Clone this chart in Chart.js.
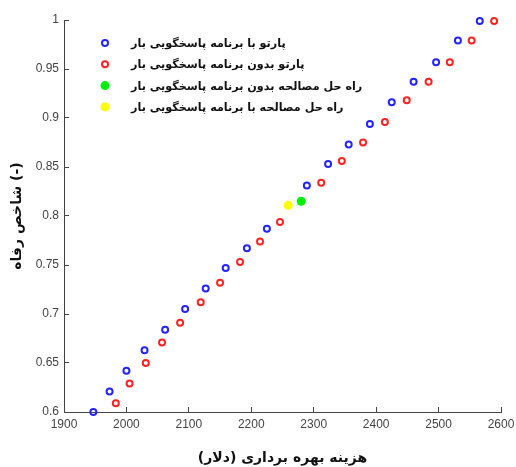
<!DOCTYPE html>
<html>
<head>
<meta charset="utf-8">
<script src="https://cdn.jsdelivr.net/npm/chart.js@4/dist/chart.umd.min.js"></script>
<style>
  html,body{margin:0;padding:0;background:#fff;}
  #wrap{width:516px;height:467px;}
</style>
</head>
<body>
<div id="wrap"><canvas id="chart" width="516" height="467"></canvas></div>
<script>
// پارتو با برنامه پاسخگویی بار
const paretoDrX=[1947,1973,2000,2029,2062,2094,2127,2159,2193,2225,2289,2323,2356,2390,2425,2460,2496,2531,2566];
const paretoDrY=[0.600,0.621,0.642,0.663,0.684,0.705,0.726,0.747,0.767,0.787,0.831,0.853,0.873,0.894,0.916,0.937,0.957,0.979,0.999];
// پارتو بدون برنامه پاسخگویی بار
const paretoNoDrX=[1983,2005,2031,2057,2086,2119,2150,2182,2214,2246,2312,2345,2379,2414,2449,2484,2518,2553,2589];
const paretoNoDrY=[0.609,0.629,0.650,0.671,0.691,0.712,0.732,0.753,0.774,0.794,0.834,0.856,0.875,0.896,0.918,0.937,0.957,0.979,0.999];
// راه حل مصالحه
const compromiseNoDr=[2280,0.815];
const compromiseDr=[2259,0.811];

const xTicks=[1900,2000,2100,2200,2300,2400,2500,2600];
const yTicks=[0.6,0.65,0.7,0.75,0.8,0.85,0.9,0.95,1];

const seriesLabels=[
  'پارتو با برنامه پاسخگویی بار',
  'پارتو بدون برنامه پاسخگویی بار',
  'راه حل مصالحه بدون برنامه پاسخگویی بار',
  'راه حل مصالحه با برنامه پاسخگویی بار'
];
const xTitle='هزینه بهره برداری (دلار)';
const yTitle='شاخص رفاه (-)';

const pts=(xs,ys)=>xs.map((x,i)=>({x,y:ys[i]}));
const persianFont='"DejaVu Sans", sans-serif';
const tickFont={family:'"Liberation Sans", Arial, sans-serif',size:12};

// legend drawn inside the plot, MATLAB-style
const innerLegend={
  id:'innerLegend',
  afterDraw(chart,args,opts){
    const ctx=chart.ctx;
    ctx.save();
    chart.data.datasets.forEach((ds,i)=>{
      const cy=opts.top+i*opts.step;
      ctx.beginPath();
      ctx.arc(opts.markX,cy,ds.pointRadius,0,Math.PI*2);
      ctx.fillStyle=ds.backgroundColor;
      ctx.fill();
      if(ds.borderWidth){
        ctx.lineWidth=ds.borderWidth;
        ctx.strokeStyle=ds.borderColor;
        ctx.stroke();
      }
      ctx.fillStyle='#111';
      ctx.font='bold 11.2px '+persianFont;
      ctx.textAlign='left';
      ctx.textBaseline='middle';
      ctx.fillText(ds.label,opts.textX,cy+1);
    });
    ctx.restore();
  }
};

new Chart(document.getElementById('chart').getContext('2d'),{
  type:'scatter',
  data:{datasets:[
    {label:seriesLabels[0],data:pts(paretoDrX,paretoDrY),borderColor:'#2424ff',backgroundColor:'rgba(0,0,0,0)',pointRadius:3,borderWidth:2,clip:false},
    {label:seriesLabels[1],data:pts(paretoNoDrX,paretoNoDrY),borderColor:'#ff2424',backgroundColor:'rgba(0,0,0,0)',pointRadius:3,borderWidth:2,clip:false},
    {label:seriesLabels[2],data:[{x:compromiseNoDr[0],y:compromiseNoDr[1]}],borderColor:'#00e000',backgroundColor:'#00ee00',pointRadius:4.5,borderWidth:0,clip:false},
    {label:seriesLabels[3],data:[{x:compromiseDr[0],y:compromiseDr[1]}],borderColor:'#f5f500',backgroundColor:'#ffff00',pointRadius:4.5,borderWidth:0,clip:false},
  ]},
  options:{
    responsive:false,animation:false,
    layout:{padding:{top:20,right:0,left:0,bottom:0}},
    plugins:{
      legend:{display:false},tooltip:{enabled:false},
      innerLegend:{markX:105,textX:131,top:43,step:21.3}
    },
    elements:{point:{hoverRadius:3}},
    scales:{
      x:{
        type:'linear',min:1900,max:2600,
        afterBuildTicks:s=>{s.ticks=xTicks.map(v=>({value:v}));},
        afterFit:s=>{s.height=55;s.paddingRight=15;},
        grid:{drawOnChartArea:false,drawTicks:true,tickLength:-5,color:'#444',lineWidth:1},
        border:{display:true,color:'#444',width:1},
        ticks:{color:'#444',font:tickFont,padding:10,maxRotation:0,callback:v=>String(v)},
        title:{display:true,text:xTitle,color:'#111',font:{family:persianFont,size:14,weight:'bold'},padding:{top:14,bottom:0}}
      },
      y:{
        type:'linear',min:0.6,max:1,
        afterBuildTicks:s=>{s.ticks=yTicks.map(v=>({value:v}));},
        afterFit:s=>{s.width=64;},
        grid:{drawOnChartArea:false,drawTicks:true,tickLength:-5,color:'#444',lineWidth:1},
        border:{display:true,color:'#444',width:1},
        ticks:{color:'#444',font:tickFont,padding:10,callback:v=>String(+v.toFixed(2))},
        title:{display:true,text:yTitle,color:'#111',font:{family:persianFont,size:14,weight:'bold'},padding:{top:9,bottom:0}}
      }
    }
  },
  plugins:[innerLegend]
});
</script>
</body>
</html>
